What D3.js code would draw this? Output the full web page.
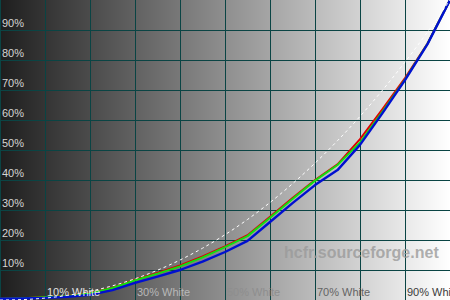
<!DOCTYPE html>
<html>
<head>
<meta charset="utf-8">
<script src="https://cdn.jsdelivr.net/npm/d3@7"></script>
<style>
  body { margin: 0; background: #fff; }
  svg { display: block; }
</style>
</head>
<body>
<div id="chart"></div>
<script>
// Variables
var width = 450;
var height = 300;

// measured luminance (% of white) at each stimulus level
var levels = [0, 5, 10, 15, 20, 25, 30, 35, 40, 45, 50, 55, 60, 65, 70, 75, 80, 85, 90, 95, 100];
var redValues   = [0.4, 0.6, 0.9, 1.4, 2.3, 4.1, 6.8, 9.0, 11.5, 14.5, 17.9, 21.6, 27.7, 34.0, 40.0, 45.2, 53.6, 63.6, 74.0, 85.5, 100];
var greenValues = [0.4, 0.6, 0.9, 1.3, 2.2, 4.0, 6.6, 8.8, 11.2, 14.2, 17.6, 21.3, 27.4, 33.7, 39.8, 45.0, 52.5, 62.8, 73.5, 85.4, 100];
var blueValues  = [0.4, 0.5, 0.7, 1.1, 1.7, 3.3, 5.7, 7.8, 10.0, 12.8, 16.0, 19.7, 26.0, 32.3, 38.3, 43.3, 51.7, 62.3, 73.3, 85.3, 100];
var gammaRef = 2.2;

var yTicks = [10, 20, 30, 40, 50, 60, 70, 80, 90];
var xTicks = [10, 20, 30, 40, 50, 60, 70, 80, 90];
var xLabels = ['10% White', '30% White', '50% White', '70% White', '90% White'];
var xLabelPos = [10, 30, 50, 70, 90];
var watermark = 'hcfr.sourceforge.net';

var x = d3.scaleLinear().domain([0, 100]).range([0, width]);
var y = d3.scaleLinear().domain([0, 100]).range([height, 0]);
// label colour follows the background, light on the dark side and dark on the light side
var labelColor = d3.scaleLinear().domain([10, 90]).range(['#e2e2e2', '#3a3a3a']);

var svg = d3.select('#chart').append('svg')
    .attr('width', width)
    .attr('height', height);

var grad = svg.append('defs').append('linearGradient')
    .attr('id', 'bg')
    .attr('x1', '0%').attr('x2', '100%')
    .attr('y1', '0%').attr('y2', '0%');
grad.append('stop').attr('offset', '0%').attr('stop-color', '#1e1e1e');
grad.append('stop').attr('offset', '100%').attr('stop-color', '#ffffff');

svg.append('rect')
    .attr('width', width)
    .attr('height', height)
    .attr('fill', 'url(#bg)');

// grid
var grid = svg.append('g').attr('stroke', '#0a4444').attr('stroke-width', 1);
grid.selectAll('line.v')
    .data([0].concat(xTicks))
    .enter().append('line')
    .attr('class', 'v')
    .attr('x1', function(d) { return Math.round(x(d)) + 0.5; })
    .attr('x2', function(d) { return Math.round(x(d)) + 0.5; })
    .attr('y1', 0)
    .attr('y2', height);
grid.selectAll('line.h')
    .data(yTicks)
    .enter().append('line')
    .attr('class', 'h')
    .attr('x1', 0)
    .attr('x2', width)
    .attr('y1', function(d) { return Math.round(y(d)) + 0.5; })
    .attr('y2', function(d) { return Math.round(y(d)) + 0.5; });

// y labels
svg.append('g').selectAll('text')
    .data(yTicks)
    .enter().append('text')
    .attr('x', 2)
    .attr('y', function(d) { return y(d) - 3; })
    .attr('font-family', 'Liberation Sans, Arial, sans-serif')
    .attr('font-size', 11)
    .attr('fill', '#d4d4d4')
    .text(function(d) { return d + '%'; });

// watermark
svg.append('text')
    .attr('x', 284)
    .attr('y', 258)
    .attr('font-family', 'Liberation Sans, Arial, sans-serif')
    .attr('font-size', 16)
    .attr('font-weight', 'bold')
    .attr('fill', '#9a9a9a')
    .attr('fill-opacity', 0.8)
    .text(watermark);

// curves
var line = d3.line()
    .x(function(d) { return x(d[0]); })
    .y(function(d) { return y(d[1]); });

var series = [
  { values: redValues, color: '#e00000', w: 2 },
  { values: greenValues, color: '#10e010', w: 2 },
  { values: blueValues, color: '#0010d0', w: 2.4 }
];

svg.append('g').selectAll('path')
    .data(series)
    .enter().append('path')
    .attr('fill', 'none')
    .attr('stroke', function(d) { return d.color; })
    .attr('stroke-width', function(d) { return d.w; })
    .attr('stroke-linejoin', 'round')
    .attr('d', function(d) {
      return line(levels.map(function(l, i) { return [l, d.values[i]]; }));
    });

// reference gamma curve
var refPts = levels.map(function(l) { return [l, Math.pow(l / 100, gammaRef) * 100]; });
svg.append('path')
    .attr('fill', 'none')
    .attr('stroke', '#ffffff')
    .attr('stroke-width', 1)
    .attr('stroke-dasharray', '3,3')
    .attr('d', line.curve(d3.curveMonotoneX)(refPts));

// x labels
svg.append('g').selectAll('text')
    .data(xLabels)
    .enter().append('text')
    .attr('x', function(d, i) { return x(xLabelPos[i]) + 2; })
    .attr('y', 296)
    .attr('font-family', 'Liberation Sans, Arial, sans-serif')
    .attr('font-size', 11)
    .attr('fill', function(d, i) { return labelColor(xLabelPos[i]); })
    .text(function(d) { return d; });
</script>
</body>
</html>
